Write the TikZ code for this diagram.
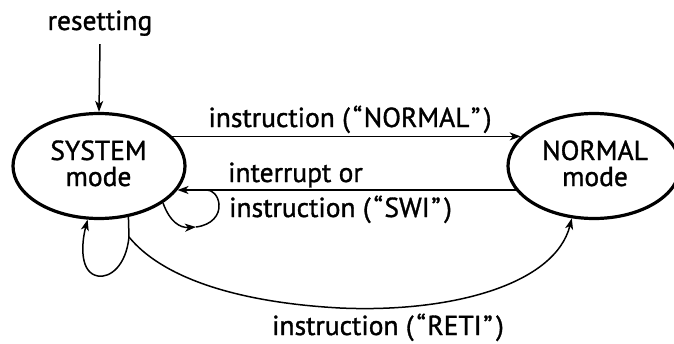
\documentclass[tikz,border=0pt]{standalone}
\usepackage{fontspec}
\setmainfont{PT Sans}
\newfontfamily\lblfam{PT Sans}[FakeBold=1.2]
\usetikzlibrary{arrows.meta,shapes.geometric}
\newcommand\lblfont{\lblfam\fontsize{27.5}{24}\selectfont}
\newcommand\myLq{\kern3pt“\kern1.5pt}
\newcommand\myRq{\kern1.5pt”\kern3.5pt}
\tikzset{
  state/.style={ellipse, draw, line width=3.2pt, minimum width=172pt, minimum height=105pt,
    inner sep=0pt},
  ln/.style={line width=1.5pt},
  arr/.style={line width=1.5pt, -{Stealth[length=11pt,width=8pt,inset=3pt]}},
  lbl/.style={font=\lblfont, inner sep=0pt},
  topline/.style={lbl, anchor=base, text depth=0pt},
}
\begin{document}
\begin{tikzpicture}[x=1pt,y=-1pt]
\useasboundingbox (0,0) rectangle (674,343);
\node[state] (sys) at (99,166) {};
\node[state] (nrm) at (594,166) {};
\node[topline] (sysA) at (98.5,160) {SYSTEM};
\node[lbl, anchor=base] (sysB) at (98.5,186) {mode};
\node[topline] (nrmA) at (595,160) {NORMAL};
\node[lbl, anchor=base] (nrmB) at (595,186) {mode};
\node[lbl, anchor=base] (rst) at (100,30) {resetting};
\draw[arr] ([yshift=-8pt]rst.south) -- (sys.north);
\draw[arr] (sys.22) -- (nrm.158);
\node[lbl, anchor=base] (lnorm) at (350,127) {instruction (\myLq NORMAL\myRq)};
\draw[arr] (nrm.197) -- (sys.-17);
\node[lbl, anchor=base west] (lint) at (228,182) {interrupt or};
\node[lbl, anchor=base west] (lswi) at (229,217) {instruction (\myLq SWI\myRq)};
\node[lbl, anchor=base] (lreti) at (388,335) {instruction (\myLq RETI\myRq)};
% small self loop merging into the interrupt line
\coordinate (lp1) at (196,227);
\coordinate (sj) at (207,190);
\draw[arr] (sys.-30) .. controls (170,222) and (180,228) .. (lp1);
\draw[ln] (lp1) .. controls (212,225) and (220,215) .. (219,204) .. controls (218,195) and (212,190) .. (sj);
% lower loop and RETI branch
\coordinate (br) at (129,237);
\draw[ln] (sys.-60) -- (br);
\draw[arr] (br) .. controls (126,266) and (110,278) .. (98,276) .. controls (80,273) and (81,245) .. (sys.258);
\draw[arr] (br) .. controls (160,275) and (230,302) .. (340,308) .. controls (450,313) and (555,285) .. (nrm.247);
\end{tikzpicture}
\end{document}
